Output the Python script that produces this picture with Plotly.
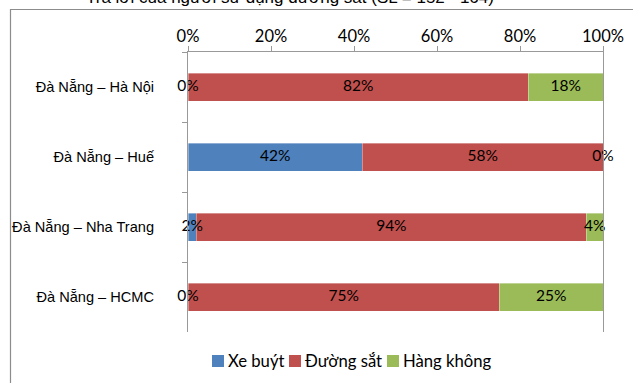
import plotly.graph_objects as go

# Routes (top to bottom) and mode shares (%)
routes = ["Đà Nẵng – Hà Nội", "Đà Nẵng – Huế", "Đà Nẵng – Nha Trang", "Đà Nẵng – HCMC"]
bus = [0, 42, 2, 0]
rail = [82, 58, 94, 75]
air = [18, 0, 4, 25]
series_names = ["Xe buýt", "Đường sắt", "Hàng không"]
colors = ["#4F81BD", "#C0504D", "#9BBB59"]
title_text = "Trả lời của người sử dụng đường sắt (SL = 152 - 164)"
x_ticks = [0, 20, 40, 60, 80, 100]

LABEL_FONT = "Lato, Carlito, 'Liberation Sans', sans-serif"
CAT_FONT = "'Liberation Sans', Arial, sans-serif"

fig = go.Figure()
series = [bus, rail, air]
for name, vals, col in zip(series_names, series, colors):
    fig.add_trace(go.Bar(
        y=routes, x=vals, name=name, orientation="h",
        marker=dict(color=col, line=dict(color="rgba(255,255,255,0.6)", width=0.6)),
        hoverinfo="skip", showlegend=False,
    ))

# value labels centred on each segment (zero shares included)
lx, ly, lt = [], [], []
for i, r in enumerate(routes):
    start = 0
    for vals in series:
        v = vals[i]
        lx.append(start + v / 2)
        ly.append(r)
        lt.append(f"{v}%")
        start += v
fig.add_trace(go.Scatter(
    x=lx, y=ly, text=lt, mode="text", showlegend=False, hoverinfo="skip",
    textfont=dict(family=LABEL_FONT, size=15.5, color="#000000"),
    cliponaxis=False,
))

L, R, T, B = 188, 30, 52, 51
W, H = 633, 383
pw, ph = W - L - R, H - T - B

def px_x(x):
    return (x - L) / pw

def px_y(y):
    return 1 - (y - T) / ph

# compact legend row under the plot: swatch + name for each series
legend_swatch_x = [212, 289, 387]
legend_y = 361
shapes = [
    dict(type="path", xref="paper", yref="paper",
         path=f"M {px_x(10.5)} {px_y(400)} L {px_x(10.5)} {px_y(9.5)} L {px_x(650)} {px_y(9.5)}",
         line=dict(color="#8c8c8c", width=1.2)),
]
annotations = [
    dict(text=title_text, xref="paper", yref="paper", x=px_x(290), y=px_y(9),
         xanchor="center", yanchor="bottom", showarrow=False,
         font=dict(family=CAT_FONT, size=17, color="#000000")),
]
for name, col, sx in zip(series_names, colors, legend_swatch_x):
    shapes.append(dict(type="rect", xref="paper", yref="paper",
                       x0=px_x(sx), x1=px_x(sx + 12),
                       y0=px_y(legend_y - 6), y1=px_y(legend_y + 6),
                       fillcolor=col, line=dict(width=0)))
    annotations.append(dict(text=name, xref="paper", yref="paper",
                            x=px_x(sx + 14), y=px_y(legend_y),
                            xanchor="left", yanchor="middle", showarrow=False,
                            font=dict(family=LABEL_FONT, size=16.7, color="#000000")))

fig.update_layout(
    width=W, height=H,
    margin=dict(l=L, r=R, t=T, b=B),
    paper_bgcolor="white", plot_bgcolor="white",
    barmode="stack", bargap=0.6,
    showlegend=False,
    xaxis=dict(
        side="top", range=[0, 100], tickvals=x_ticks,
        ticktext=[f"{t}%" for t in x_ticks],
        showgrid=False, zeroline=False, automargin=False,
        showline=True, linecolor="#999999", linewidth=1,
        ticks="outside", ticklen=5, tickcolor="#999999",
        ticklabelstandoff=-3,
        tickfont=dict(family=LABEL_FONT, size=16.5, color="#000000"),
    ),
    yaxis=dict(
        type="category", autorange="reversed",
        showgrid=False, zeroline=False, automargin=False,
        showline=True, linecolor="#999999", linewidth=1, mirror=True,
        ticks="outside", ticklen=5, tickcolor="#999999", tickson="boundaries",
        ticklabelstandoff=30,
        tickfont=dict(family=CAT_FONT, size=14.6, color="#000000"),
    ),
    shapes=shapes,
    annotations=annotations,
)

fig.write_html("out.html")
